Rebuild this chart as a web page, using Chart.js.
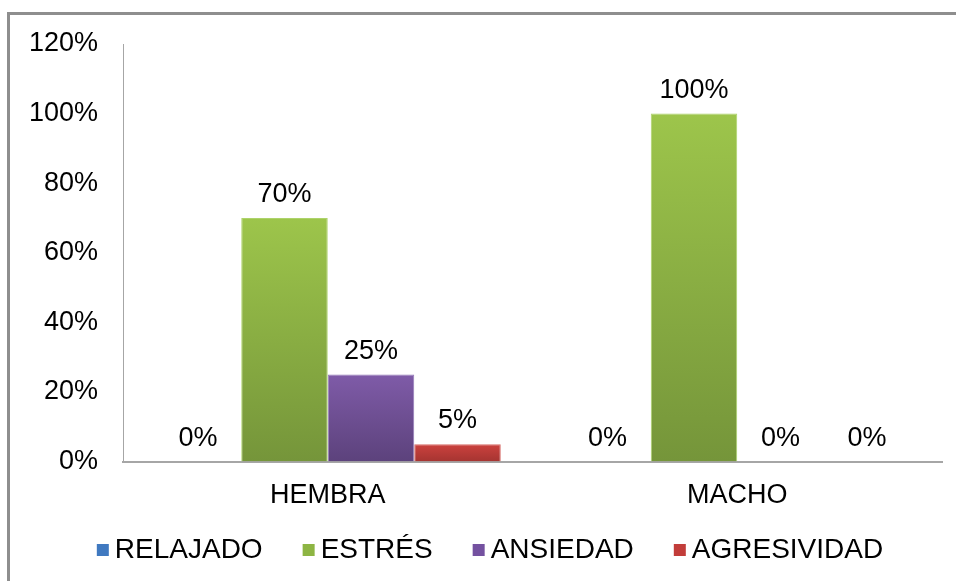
<!DOCTYPE html>
<html>
<head>
<meta charset="utf-8">
<script src="https://cdn.jsdelivr.net/npm/chart.js@4/dist/chart.umd.min.js"></script>
<style>
  html, body { margin: 0; padding: 0; background: #ffffff; }
  #wrap { position: relative; width: 956px; height: 581px; overflow: hidden; }
  #frame { position: absolute; left: 7px; top: 12px; width: 2000px; height: 2000px;
           border-left: 3px solid #8e8e8e; border-top: 3px solid #8e8e8e; }
  canvas { position: absolute; left: 0; top: 0; }
</style>
</head>
<body>
<div id="wrap">
  <div id="frame"></div>
  <canvas id="c" width="956" height="581"></canvas>
</div>
<script>
// ---- data ----
const categories = ['HEMBRA', 'MACHO'];
const seriesNames = ['RELAJADO', 'ESTRÉS', 'ANSIEDAD', 'AGRESIVIDAD'];
const relajado = [0, 0];
const estres = [70, 100];
const ansiedad = [25, 0];
const agresividad = [5, 0];
const yTicks = [0, 20, 40, 60, 80, 100, 120];

const FONT = "'Liberation Sans', Arial, sans-serif";
const palette = [
  { top: '#4a86c8', bottom: '#3a6da8', border: '#6f9fd6', legend: '#4079c0' },
  { top: '#9dc54b', bottom: '#75953a', border: '#add36a', legend: '#8db543' },
  { top: '#7f5ba8', bottom: '#5c427c', border: '#9479b8', legend: '#7451a0' },
  { top: '#cc423e', bottom: '#a53431', border: '#d66a66', legend: '#c23d3a' }
];

function gradFor(idx) {
  return function(ctx) {
    const chart = ctx.chart;
    const ys = chart.scales && chart.scales.y;
    const v = ctx.raw;
    if (!ys || !chart.chartArea || v === undefined) return palette[idx].top;
    const yTop = ys.getPixelForValue(v);
    const yBot = ys.getPixelForValue(0);
    if (!(yBot > yTop)) return palette[idx].top;
    const g = chart.ctx.createLinearGradient(0, yTop, 0, yBot);
    g.addColorStop(0, palette[idx].top);
    g.addColorStop(1, palette[idx].bottom);
    return g;
  };
}

const seriesValues = [relajado, estres, ansiedad, agresividad];
const datasets = seriesNames.map((name, i) => ({
  label: name,
  data: seriesValues[i],
  backgroundColor: gradFor(i),
  borderColor: palette[i].border,
  borderWidth: (ctx) => (ctx.raw ? 1 : 0),
  categoryPercentage: 0.845,
  barPercentage: 1.0
}));

const valueLabels = {
  id: 'valueLabels',
  afterDatasetsDraw(chart) {
    const ctx = chart.ctx;
    ctx.save();
    ctx.font = '27px ' + FONT;
    ctx.fillStyle = '#000000';
    ctx.textAlign = 'center';
    ctx.textBaseline = 'alphabetic';
    chart.data.datasets.forEach((ds, di) => {
      const meta = chart.getDatasetMeta(di);
      meta.data.forEach((el, i) => {
        const v = ds.data[i];
        ctx.fillText(v + '%', el.x, el.y - 16);
      });
    });
    ctx.restore();
  }
};

const customLegend = {
  id: 'customLegend',
  afterDraw(chart) {
    const ctx = chart.ctx;
    ctx.save();
    ctx.font = '28px ' + FONT;
    ctx.textBaseline = 'middle';
    ctx.textAlign = 'left';
    const box = 12, gapText = 6, gapItem = 40;
    const widths = chart.data.datasets.map(d => ctx.measureText(d.label).width);
    let total = 0;
    widths.forEach((w, i) => { total += box + gapText + w + (i < widths.length - 1 ? gapItem : 0); });
    let x = 490 - total / 2;
    const y = 550;
    chart.data.datasets.forEach((d, i) => {
      ctx.fillStyle = palette[i].legend;
      ctx.fillRect(x, y - 6, box, box);
      ctx.fillStyle = '#000000';
      ctx.fillText(d.label, x + box + gapText, y);
      x += box + gapText + widths[i] + gapItem;
    });
    ctx.restore();
  }
};

new Chart(document.getElementById('c'), {
  type: 'bar',
  data: { labels: categories, datasets: datasets },
  options: {
    responsive: false,
    animation: false,
    events: [],
    layout: { padding: { left: 0, right: 14, top: 44, bottom: 51 } },
    plugins: {
      legend: { display: false },
      tooltip: { enabled: false },
      title: { display: false }
    },
    scales: {
      x: {
        grid: { display: false, drawTicks: false },
        border: { display: true, color: '#a6a6a6', width: 2 },
        ticks: { color: '#000000', font: { family: FONT, size: 27 }, padding: 18 }
      },
      y: {
        min: 0,
        max: 120,
        afterFit(scale) { scale.width = 123; },
        afterBuildTicks(scale) { scale.ticks = yTicks.map(v => ({ value: v })); },
        grid: { display: false, drawTicks: false },
        border: { display: true, color: '#a6a6a6', width: 1 },
        ticks: {
          color: '#000000',
          font: { family: FONT, size: 27 },
          padding: 25,
          callback: (v) => v + '%'
        }
      }
    }
  },
  plugins: [valueLabels, customLegend]
});
</script>
</body>
</html>
